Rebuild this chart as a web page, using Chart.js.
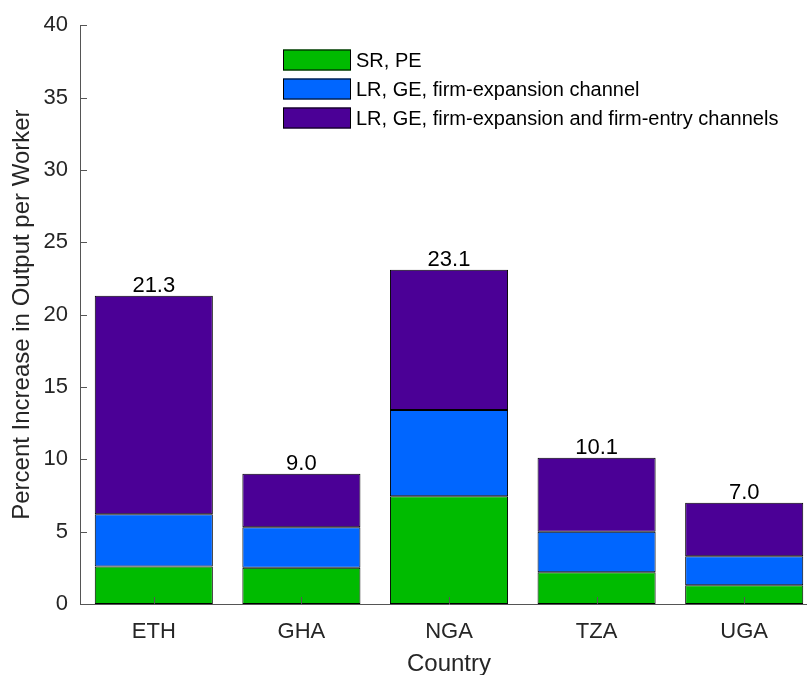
<!DOCTYPE html>
<html>
<head>
<meta charset="utf-8">
<script src="https://cdn.jsdelivr.net/npm/chart.js@4.4.1/dist/chart.umd.min.js"></script>
<style>
  html, body { margin: 0; padding: 0; background: #fff; overflow: hidden; }
  #wrap { width: 835px; height: 675px; }
</style>
</head>
<body>
<div id="wrap"><canvas id="myChart" width="835" height="675"></canvas></div>
<script>
// values (segments of each stacked bar)
const countries = ['ETH', 'GHA', 'NGA', 'TZA', 'UGA'];
const srPE = [2.6, 2.5, 7.45, 2.2, 1.3];
const firmExpansion = [3.6, 2.8, 5.95, 2.8, 2.0];
const firmEntry = [15.1, 3.7, 9.7, 5.1, 3.7];
const totalLabels = ['21.3', '9.0', '23.1', '10.1', '7.0'];
const seriesNames = [
  'SR, PE',
  'LR, GE, firm-expansion channel',
  'LR, GE, firm-expansion and firm-entry channels'
];
const seriesColors = ['#00bb00', '#0066ff', '#4b0096'];
const yTicks = [0, 5, 10, 15, 20, 25, 30, 35, 40];

const textColor = '#262626';
const axisColor = '#555555';
const FONT = 'Liberation Sans, Arial, Helvetica, sans-serif';

const dataSource = {
  labels: countries,
  datasets: [srPE, firmExpansion, firmEntry].map((arr, k) => ({
    label: seriesNames[k],
    data: arr,
    backgroundColor: seriesColors[k],
    borderColor: '#000',
    borderWidth: 1,
    borderSkipped: false,
    categoryPercentage: 1.0,
    barPercentage: 0.8
  }))
};

// inward tick marks, like the original
const innerTicks = {
  id: 'innerTicks',
  afterDraw(chart) {
    const ctx = chart.ctx, x = chart.scales.x, y = chart.scales.y;
    const a = chart.chartArea;
    ctx.save();
    ctx.strokeStyle = axisColor;
    ctx.lineWidth = 1;
    ctx.beginPath();
    yTicks.forEach(v => {
      const py = Math.round(y.getPixelForValue(v)) + 0.5;
      ctx.moveTo(a.left, py);
      ctx.lineTo(a.left + 7, py);
    });
    countries.forEach((c, i) => {
      const px = Math.round(x.getPixelForValue(i)) + 0.5;
      ctx.moveTo(px, a.bottom);
      ctx.lineTo(px, a.bottom - 7);
    });
    ctx.stroke();
    ctx.restore();
  }
};

// totals above bars
const totalsPlugin = {
  id: 'totals',
  afterDatasetsDraw(chart) {
    const ctx = chart.ctx, x = chart.scales.x, y = chart.scales.y;
    ctx.save();
    ctx.fillStyle = '#000';
    ctx.font = '22px ' + FONT;
    ctx.textAlign = 'center';
    ctx.textBaseline = 'alphabetic';
    countries.forEach((c, i) => {
      const top = srPE[i] + firmExpansion[i] + firmEntry[i];
      ctx.fillText(totalLabels[i], x.getPixelForValue(i), y.getPixelForValue(top) - 4);
    });
    ctx.restore();
  }
};

// legend box like matlab's
const boxLegend = {
  id: 'boxLegend',
  afterDraw(chart) {
    const ctx = chart.ctx;
    ctx.save();
    ctx.font = '20px ' + FONT;
    ctx.textBaseline = 'middle';
    seriesNames.forEach((name, k) => {
      const cy = 60 + k * 29;
      ctx.fillStyle = seriesColors[k];
      ctx.fillRect(283, cy - 10.5, 68, 21);
      ctx.strokeStyle = '#000';
      ctx.lineWidth = 1;
      ctx.strokeRect(283.5, cy - 10, 67, 20);
      ctx.fillStyle = '#000';
      ctx.fillText(name, 356, cy + 1);
    });
    ctx.restore();
  }
};

const ctx = document.getElementById('myChart');
const myChart = new Chart(ctx, {
  type: 'bar',
  data: dataSource,
  plugins: [innerTicks, totalsPlugin, boxLegend],
  options: {
    responsive: false,
    animation: false,
    layout: { padding: { left: 0, right: 17, top: 22, bottom: 0 } },
    plugins: {
      legend: { display: false },
      tooltip: { enabled: false }
    },
    scales: {
      x: {
        stacked: true,
        offset: true,
        afterFit: s => { s.height = 71; },
        grid: { display: false, drawTicks: false },
        border: { display: true, color: axisColor, width: 1 },
        ticks: {
          padding: 15,
          color: textColor,
          font: { family: FONT, size: 22 }
        },
        title: {
          display: true,
          text: 'Country',
          color: textColor,
          font: { family: FONT, size: 24, lineHeight: 0.7 },
          padding: { top: 0, bottom: 2 }
        }
      },
      y: {
        stacked: true,
        min: 0,
        max: 40,
        afterBuildTicks: s => { s.ticks = yTicks.map(v => ({ value: v })); },
        afterFit: s => { s.width = 80; },
        grid: { display: false, drawTicks: false },
        border: { display: true, color: axisColor, width: 1 },
        ticks: {
          padding: 12,
          color: textColor,
          font: { family: FONT, size: 22 }
        },
        title: {
          display: true,
          text: 'Percent Increase in Output per Worker',
          color: textColor,
          font: { family: FONT, size: 24 },
          padding: { top: 8, bottom: 0 }
        }
      }
    }
  }
});
</script>
</body>
</html>
